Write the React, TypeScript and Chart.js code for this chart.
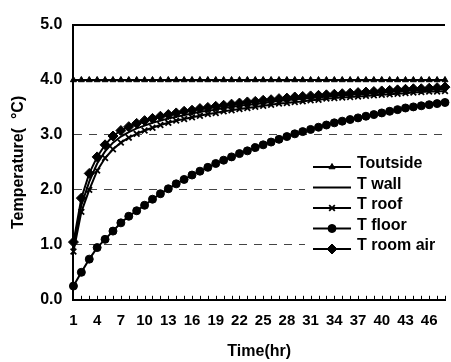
import React, { useEffect, useRef } from "react";
import { Chart, registerables } from "chart.js";
import { drawPoint } from "chart.js/helpers";

Chart.register(...registerables);

const hours = [
  "1","2","3","4","5","6","7","8","9","10","11","12","13","14","15","16",
  "17","18","19","20","21","22","23","24","25","26","27","28","29","30","31","32",
  "33","34","35","36","37","38","39","40","41","42","43","44","45","46","47","48",
];
const tickEvery = 3;

const tOutside = [
  4.0,4.0,4.0,4.0,4.0,4.0,4.0,4.0,4.0,4.0,4.0,4.0,4.0,4.0,4.0,4.0,
  4.0,4.0,4.0,4.0,4.0,4.0,4.0,4.0,4.0,4.0,4.0,4.0,4.0,4.0,4.0,4.0,
  4.0,4.0,4.0,4.0,4.0,4.0,4.0,4.0,4.0,4.0,4.0,4.0,4.0,4.0,4.0,4.0,
];
const tWall = [
  1.0,1.72,2.15,2.48,2.7,2.86,2.97,3.05,3.12,3.17,3.22,3.26,3.3,3.33,3.36,3.39,
  3.42,3.44,3.46,3.49,3.51,3.53,3.55,3.56,3.58,3.6,3.62,3.63,3.65,3.66,3.67,3.68,
  3.7,3.71,3.72,3.73,3.74,3.75,3.76,3.77,3.78,3.79,3.8,3.81,3.81,3.82,3.83,3.84,
];
const tRoof = [
  0.88,1.6,2.0,2.35,2.58,2.74,2.86,2.95,3.02,3.08,3.13,3.18,3.22,3.26,3.29,3.32,
  3.35,3.38,3.4,3.43,3.45,3.47,3.49,3.51,3.53,3.55,3.57,3.58,3.6,3.61,3.63,3.64,
  3.66,3.67,3.68,3.69,3.7,3.71,3.72,3.73,3.74,3.75,3.76,3.77,3.78,3.79,3.79,3.8,
];
const tFloor = [
  0.25,0.5,0.74,0.95,1.1,1.25,1.4,1.52,1.62,1.72,1.83,1.93,2.02,2.11,2.19,2.27,
  2.34,2.41,2.48,2.54,2.6,2.66,2.71,2.77,2.82,2.87,2.92,2.97,3.02,3.06,3.1,3.14,
  3.18,3.22,3.25,3.28,3.31,3.34,3.37,3.4,3.43,3.46,3.49,3.51,3.53,3.55,3.57,3.59,
];
const tRoomAir = [
  1.05,1.85,2.3,2.6,2.82,2.98,3.08,3.15,3.21,3.26,3.3,3.34,3.37,3.4,3.43,3.45,
  3.48,3.5,3.52,3.54,3.56,3.58,3.6,3.61,3.63,3.64,3.66,3.67,3.69,3.7,3.71,3.72,
  3.73,3.74,3.75,3.76,3.77,3.78,3.79,3.8,3.81,3.82,3.83,3.84,3.84,3.85,3.86,3.87,
];

const seriesNames = ["Toutside", "T wall", "T roof", "T floor", "T room air"];
const yTicks = [0, 1, 2, 3, 4, 5];

const FONT = "'Liberation Sans', Arial, Helvetica, sans-serif";

const minorTicksPlugin = {
  id: "minorTicks",
  afterDraw(chart: any) {
    const x = chart.scales.x;
    const ctx = chart.ctx;
    const bottom = chart.chartArea.bottom;
    ctx.save();
    ctx.strokeStyle = "#000";
    ctx.lineWidth = 1;
    for (let i = 0; i < hours.length; i++) {
      const px = Math.round(x.getPixelForValue(i)) + 0.5;
      ctx.beginPath();
      ctx.moveTo(px, bottom);
      ctx.lineTo(px, bottom - 4);
      ctx.stroke();
    }
    ctx.restore();
  },
};

const legendPlugin = {
  id: "inLegend",
  beforeDatasetsDraw(chart: any) {
    const ctx = chart.ctx;
    ctx.save();
    ctx.fillStyle = "#fff";
    ctx.fillRect(305, 152, chart.chartArea.right - 305, 106);
    ctx.restore();
  },
  afterDraw(chart: any) {
    const ctx = chart.ctx;
    const x0 = 313, x1 = 351, tx = 357, y0 = 164, dy = 20.5;
    ctx.save();
    chart.data.datasets.forEach((ds: any, i: number) => {
      const ty = y0 + i * dy;
      const ly = ty + 3;
      ctx.strokeStyle = "#000";
      ctx.fillStyle = "#000";
      ctx.lineWidth = 2;
      ctx.setLineDash([]);
      ctx.beginPath();
      ctx.moveTo(x0, ly);
      ctx.lineTo(x1, ly);
      ctx.stroke();
      if (ds.pointRadius > 0) {
        ctx.lineWidth = ds.pointBorderWidth || 1;
        drawPoint(ctx, {
          pointStyle: ds.pointStyle,
          radius: ds.pointRadius,
          rotation: 0,
          borderWidth: ds.pointBorderWidth || 1,
        }, (x0 + x1) / 2, ly);
      }
      ctx.font = `bold 16px ${FONT}`;
      ctx.textBaseline = "middle";
      ctx.textAlign = "left";
      ctx.fillStyle = "#000";
      ctx.fillText(ds.label, tx, ty);
    });
    ctx.restore();
  },
};

export default function App() {
  const ref = useRef<HTMLCanvasElement | null>(null);
  useEffect(() => {
    if (!ref.current) return;
    Chart.defaults.font.family = FONT;
    Chart.defaults.color = "#000";
    const mk = (label: string, data: number[], style: any, radius: number, bw: number) => ({
      label,
      data,
      borderColor: "#000",
      backgroundColor: "#000",
      borderWidth: 2,
      pointStyle: style,
      pointRadius: radius,
      pointBorderWidth: bw,
      pointBackgroundColor: "#000",
      pointBorderColor: "#000",
      tension: 0,
      clip: false as any,
    });
    const chart = new Chart(ref.current, {
      type: "line",
      data: {
        labels: hours,
        datasets: [
          mk(seriesNames[0], tOutside, "triangle", 3.5, 1),
          mk(seriesNames[1], tWall, "circle", 0, 1),
          mk(seriesNames[2], tRoof, "crossRot", 4, 1.8),
          mk(seriesNames[3], tFloor, "circle", 4, 1),
          mk(seriesNames[4], tRoomAir, "rectRot", 5, 1),
        ],
      },
      options: {
        animation: false,
        responsive: false,
        devicePixelRatio: 1,
        layout: { padding: { left: 0, right: 0, top: 25, bottom: 0 } },
        plugins: { legend: { display: false }, tooltip: { enabled: false } },
        scales: {
          x: {
            type: "category",
            offset: false,
            grid: { display: false, drawTicks: true, tickLength: 12 },
            border: { display: true, color: "#000", width: 2 },
            ticks: {
              autoSkip: false,
              maxRotation: 0,
              minRotation: 0,
              padding: 0,
              font: { size: 15, weight: "bold" },
              color: "#000",
              callback: (_v: any, i: number) => (i % tickEvery === 0 ? hours[i] : ""),
            },
            title: {
              display: true,
              text: "Time(hr)",
              font: { size: 16, weight: "bold" },
              color: "#000",
              padding: { top: 12, bottom: 1 },
            },
          },
          y: {
            min: yTicks[0],
            max: yTicks[yTicks.length - 1],
            afterBuildTicks: (s: any) => {
              s.ticks = yTicks.map((v) => ({ value: v }));
            },
            grid: {
              drawTicks: true,
              tickLength: 11,
              tickColor: "rgba(0,0,0,0)",
              color: (c: any) => {
                const v = c.tick ? c.tick.value : null;
                if (v === 0) return "rgba(0,0,0,0)";
                if (v === 5) return "#000";
                return "#444";
              },
              lineWidth: (c: any) => (c.tick && c.tick.value === 5 ? 2 : 1),
            },
            border: {
              display: true,
              color: "#000",
              width: 2,
              dash: (c: any) => (c.tick && c.tick.value !== 5 ? [8, 7] : []),
            },
            ticks: {
              padding: 0,
              font: { size: 16, weight: "bold" },
              color: "#000",
              callback: (v: any) => Number(v).toFixed(1),
            },
            title: {
              display: true,
              text: "Temperature(  °C)",
              font: { size: 16, weight: "bold" },
              color: "#000",
              padding: { top: 9, bottom: 12 },
            },
          },
        },
      },
      plugins: [minorTicksPlugin, legendPlugin],
    } as any);
    return () => chart.destroy();
  }, []);
  return (
    <div style={{ position: "fixed", left: 0, top: 0, width: 451, height: 362, background: "#fff" }}>
      <canvas ref={ref} width={451} height={362} />
    </div>
  );
}
